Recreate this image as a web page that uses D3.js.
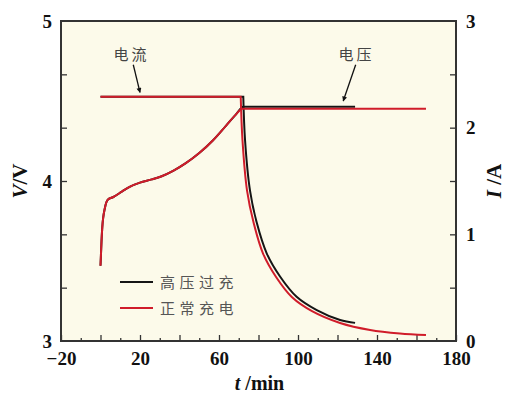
<!DOCTYPE html>
<html>
<head>
<meta charset="utf-8">
<script src="https://cdn.jsdelivr.net/npm/d3@7"></script>
<style>
  body { margin: 0; background: #fff; }
  svg { display: block; }
</style>
</head>
<body>
<div id="chart"></div>
<script>
// voltage rise (shared shape, both runs overlap until the CV step)
var riseT = [0, 0.5, 0.9, 2.2, 3.8, 6.5, 11, 15, 20, 26, 31, 37, 43, 50, 57, 63.5, 68.5];
var riseV = [3.47, 3.62, 3.71, 3.83, 3.885, 3.90, 3.935, 3.965, 3.99, 4.01, 4.03, 4.065, 4.11, 4.175, 4.255, 4.345, 4.415];

// 高压过充 (black)
var overVoltT = riseT.concat([72.3, 128.9]);
var overVoltV = riseV.concat([4.464, 4.464]);
var overCurT = [0, 72.3, 73.2, 75.7, 79.1, 84.2, 90.9, 99.3, 109.5, 121.3, 128.9];
var overCurI = [2.29, 2.29, 1.88, 1.41, 1.11, 0.82, 0.605, 0.415, 0.29, 0.197, 0.17];

// 正常充电 (red)
var normVoltT = riseT.concat([71.8, 164.8]);
var normVoltV = riseV.concat([4.452, 4.452]);
var normCurT = [0, 71.0, 71.9, 74.2, 77.5, 82.3, 88.9, 97.0, 107.1, 121.3, 136.5, 151.6, 164.8];
var normCurI = [2.29, 2.29, 1.88, 1.41, 1.11, 0.82, 0.60, 0.41, 0.28, 0.169, 0.103, 0.07, 0.056];

var xLabels = [-20, 20, 60, 100, 140, 180];
var vLabels = [3, 4, 5];
var iLabels = [0, 1, 2, 3];
var legendNames = ["高压过充", "正常充电"];

var W = 512, H = 396;
var margin = { top: 21, right: 56, bottom: 55, left: 61 };
var width = W - margin.left - margin.right,
    height = H - margin.top - margin.bottom;

var svg = d3.select("#chart").append("svg")
  .attr("width", W).attr("height", H);

var g = svg.append("g")
  .attr("transform", "translate(" + margin.left + "," + margin.top + ")");

var x = d3.scaleLinear().domain([-20, 180]).range([0, width]);
var yV = d3.scaleLinear().domain([3, 5]).range([height, 0]);
var yI = d3.scaleLinear().domain([0, 3]).range([height, 0]);

// plot background
g.append("rect")
  .attr("width", width).attr("height", height)
  .attr("fill", "#fcfaea");

var numFont = "'Liberation Serif', 'Times New Roman', serif";
var cjkFont = "'Noto Sans CJK SC', sans-serif";

function styleAxis(sel) {
  sel.select(".domain").remove();
  sel.selectAll("line").attr("stroke", "#333").attr("stroke-width", 1.3);
  sel.selectAll("text")
    .attr("font-family", numFont)
    .attr("font-weight", "bold")
    .attr("font-size", "19px")
    .attr("fill", "#111");
}

// x axis: major every 20, minor every 10
g.append("g")
  .attr("transform", "translate(0," + height + ")")
  .call(d3.axisBottom(x).tickValues(d3.range(-10, 180, 20)).tickSize(-3).tickFormat(""))
  .call(styleAxis);
g.append("g")
  .attr("transform", "translate(0," + height + ")")
  .call(d3.axisBottom(x).tickValues(d3.range(-20, 181, 20)).tickSize(-6).tickPadding(11)
    .tickFormat(function (d) { return xLabels.indexOf(d) >= 0 ? d3.format("")(d) : ""; }))
  .call(styleAxis);

// left axis: ticks every 0.5 A position, labels in volts
g.append("g")
  .call(d3.axisLeft(yI).tickValues(d3.range(0.5, 3, 0.5)).tickSize(-6).tickFormat(""))
  .call(styleAxis);
g.append("g")
  .call(d3.axisLeft(yV).tickValues(vLabels).tickSize(0).tickPadding(9).tickFormat(d3.format("d")))
  .call(styleAxis);

// right axis
g.append("g")
  .attr("transform", "translate(" + width + ",0)")
  .call(d3.axisRight(yI).tickValues(d3.range(0.5, 3, 0.5)).tickSize(-6).tickFormat(""))
  .call(styleAxis);
g.append("g")
  .attr("transform", "translate(" + width + ",0)")
  .call(d3.axisRight(yI).tickValues(iLabels).tickSize(0).tickPadding(10).tickFormat(d3.format("d")))
  .call(styleAxis);

// frame
g.append("rect")
  .attr("width", width).attr("height", height)
  .attr("fill", "none").attr("stroke", "#333").attr("stroke-width", 2);

// lines
function pts(ts, vs) { return ts.map(function (t, i) { return [t, vs[i]]; }); }
var lineV = d3.line().x(function (d) { return x(d[0]); }).y(function (d) { return yV(d[1]); })
  .curve(d3.curveMonotoneX);
var lineI = d3.line().x(function (d) { return x(d[0]); }).y(function (d) { return yI(d[1]); })
  .curve(d3.curveCatmullRom.alpha(0.5));
var lineIcur = d3.line().x(function (d) { return x(d[0]); }).y(function (d) { return yI(d[1]); })
  .curve(d3.curveLinear);

var black = "#151515", red = "#d01c2a";

g.append("path").attr("d", lineV(pts(overVoltT, overVoltV)))
  .attr("fill", "none").attr("stroke", black).attr("stroke-width", 2);
g.append("path").attr("d", lineIcur(pts(overCurT.slice(0, 2), overCurI.slice(0, 2))) +
    lineI(pts(overCurT.slice(1), overCurI.slice(1))).replace("M", "L"))
  .attr("fill", "none").attr("stroke", black).attr("stroke-width", 2);

g.append("path").attr("d", lineV(pts(normVoltT, normVoltV)))
  .attr("fill", "none").attr("stroke", red).attr("stroke-width", 2);
g.append("path").attr("d", lineIcur(pts(normCurT.slice(0, 2), normCurI.slice(0, 2))) +
    lineI(pts(normCurT.slice(1), normCurI.slice(1))).replace("M", "L"))
  .attr("fill", "none").attr("stroke", red).attr("stroke-width", 2);

// annotations
svg.append("defs").append("marker")
  .attr("id", "arr").attr("viewBox", "0 0 10 10")
  .attr("refX", 9).attr("refY", 5)
  .attr("markerWidth", 7).attr("markerHeight", 5)
  .attr("markerUnits", "userSpaceOnUse")
  .attr("orient", "auto")
  .append("path").attr("d", "M0,0 L10,5 L0,10 Z").attr("fill", "#111");

var notes = [
  { text: "电流", tx: 15.7, ty: 2.634, from: [16.6, 2.59], to: [20.0, 2.33] },
  { text: "电压", tx: 129.6, ty: 2.634, from: [129.2, 2.59], to: [122.9, 2.25] }
];
notes.forEach(function (n) {
  g.append("text")
    .attr("x", x(n.tx)).attr("y", yI(n.ty))
    .attr("text-anchor", "middle")
    .attr("font-family", cjkFont).attr("font-size", "15px")
    .attr("letter-spacing", "3px")
    .attr("fill", "#444")
    .text(n.text);
  g.append("line")
    .attr("x1", x(n.from[0])).attr("y1", yI(n.from[1]))
    .attr("x2", x(n.to[0])).attr("y2", yI(n.to[1]))
    .attr("stroke", "#111").attr("stroke-width", 1.3)
    .attr("marker-end", "url(#arr)");
});

// legend
var legend = g.append("g").attr("transform", "translate(59,261)");
[black, red].forEach(function (c, i) {
  legend.append("line")
    .attr("x1", 0).attr("x2", 33)
    .attr("y1", i * 26).attr("y2", i * 26)
    .attr("stroke", c).attr("stroke-width", 2);
  legend.append("text")
    .attr("x", 40).attr("y", i * 26 + 5.5)
    .attr("font-family", cjkFont).attr("font-size", "15px")
    .attr("letter-spacing", "4.5px")
    .attr("fill", "#555")
    .text(legendNames[i]);
});

// axis titles
var xt = svg.append("text")
  .attr("x", margin.left + width / 2 + 1).attr("y", 390)
  .attr("text-anchor", "middle")
  .attr("font-family", numFont).attr("font-weight", "bold").attr("font-size", "20px")
  .attr("fill", "#111");
xt.append("tspan").attr("font-style", "italic").text("t");
xt.append("tspan").text(" /min");

var yt = svg.append("text")
  .attr("transform", "translate(27," + (margin.top + height / 2) + ") rotate(-90)")
  .attr("text-anchor", "middle")
  .attr("font-family", numFont).attr("font-weight", "bold").attr("font-size", "21px")
  .attr("fill", "#111");
yt.append("tspan").attr("font-style", "italic").text("V");
yt.append("tspan").text("/V");

var it = svg.append("text")
  .attr("transform", "translate(501," + (margin.top + height / 2) + ") rotate(-90)")
  .attr("text-anchor", "middle")
  .attr("font-family", numFont).attr("font-weight", "bold").attr("font-size", "21px")
  .attr("fill", "#111");
it.append("tspan").attr("font-style", "italic").text("I");
it.append("tspan").text(" /A");
</script>
</body>
</html>
